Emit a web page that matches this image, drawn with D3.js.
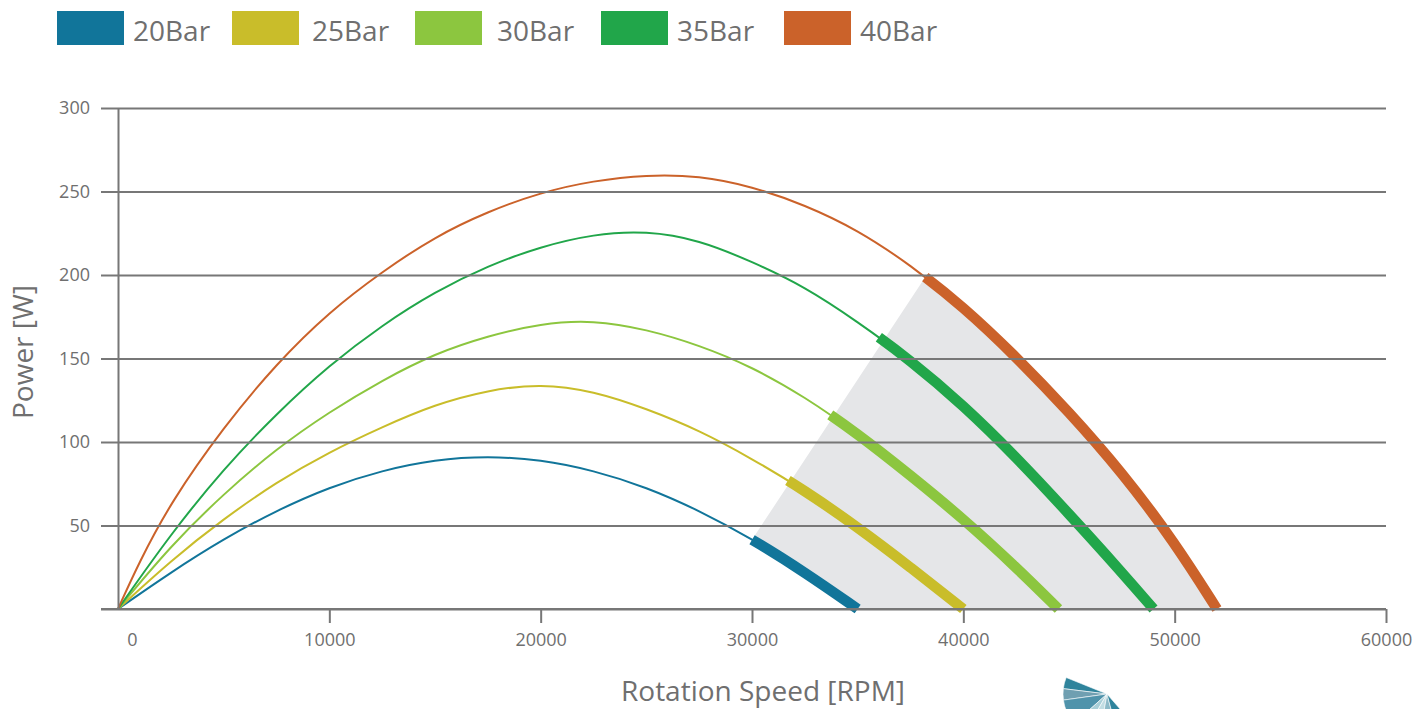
<!DOCTYPE html>
<html>
<head>
<meta charset="utf-8">
<script src="https://cdn.jsdelivr.net/npm/d3@7"></script>
<style>
  html, body { margin: 0; padding: 0; background: #ffffff; }
  svg { display: block; font-family: "Open Sans", "Noto Sans", sans-serif; }
</style>
</head>
<body>
<svg id="chart" width="1427" height="709"></svg>
<script>
// Pressure levels shown in the legend
const seriesNames = ["20Bar", "25Bar", "30Bar", "35Bar", "40Bar"];
const seriesColors = ["#11759a", "#c9bd2a", "#8cc63f", "#21a64a", "#cb622a"];

// Power curves: rotation speed [RPM] and power [W]
const rpm20 = [0, 2500, 5000, 7500, 10000, 12500, 15000, 17500, 20000, 22500, 25000, 27500, 30000, 32500, 35000];
const pow20 = [0, 22, 42, 59, 73, 83, 89.5, 91.5, 89.5, 83, 73, 59, 42, 22, 0];

const rpm25 = [0, 2500, 5000, 7500, 10000, 12500, 15000, 17500, 20000, 22500, 25000, 27500, 30000, 32500, 35000, 37500, 40000];
const pow25 = [0, 29, 54, 76, 94, 109, 122.5, 131, 135, 130.5, 120, 107, 90, 71, 49, 25, 0];

const rpm30 = [0, 2500, 5000, 7500, 10000, 12500, 15000, 17500, 20000, 22500, 25000, 27500, 30000, 32500, 35000, 37500, 40000, 42500, 44500];
const pow30 = [0, 38, 69, 96, 118, 137, 153, 163.5, 171, 173, 167.5, 158, 145, 127, 105, 80, 54, 25, 0];

const rpm35 = [0, 2500, 5000, 7500, 10000, 12500, 15000, 17500, 20000, 22500, 25000, 27500, 30000, 32500, 35000, 37500, 40000, 42500, 45000, 47500, 49000];
const pow35 = [0, 45, 84, 117, 146, 170, 190, 205.5, 217, 224.5, 226.5, 221, 208, 193, 172, 149, 122, 91, 57, 22, 0];

const rpm40 = [0, 1000, 2500, 5000, 7500, 10000, 12500, 15000, 17500, 20000, 22500, 25000, 27500, 30000, 32500, 35000, 37500, 40000, 42500, 45000, 47500, 50000, 52000];
const pow40 = [0, 28, 64, 109, 147, 178, 202, 223, 238, 249.5, 256.5, 260, 259.5, 253, 242, 227, 206, 181, 151, 118, 82, 40, 0];

// Speed from which each curve is in its recommended operating range
const rangeStart = [30000, 31700, 33700, 36000, 38200];

// Axis ticks
const xTicks = [0, 10000, 20000, 30000, 40000, 50000, 60000];
const yTicks = [0, 50, 100, 150, 200, 250, 300];

const rpmSets = [rpm20, rpm25, rpm30, rpm35, rpm40];
const powSets = [pow20, pow25, pow30, pow35, pow40];
const series = seriesNames.map((name, i) => ({
  name,
  color: seriesColors[i],
  start: rangeStart[i],
  points: rpmSets[i].map((r, j) => ({ rpm: r, p: powSets[i][j] }))
}));

const svg = d3.select("#chart");
const textColor = "#6f6f6f";
const gridColor = "#777777";

const x = d3.scaleLinear().domain([0, 60000]).range([118, 1386]);
const y = d3.scaleLinear().domain([0, 300]).range([609, 108]);

const line = d3.line()
  .x(d => x(d.rpm))
  .y(d => y(d.p))
  .curve(d3.curveBasis);

const regionLayer = svg.append("g");
const plot = svg.append("g");

// Full curves (thin)
const thin = plot.selectAll("path.thin")
  .data(series)
  .join("path")
  .attr("class", "thin")
  .attr("d", d => line(d.points))
  .attr("fill", "none")
  .attr("stroke", d => d.color)
  .attr("stroke-width", 2);

// Path length at which a curve reaches a given speed
function lengthAt(node, rpm) {
  const tx = x(rpm);
  let lo = 0, hi = node.getTotalLength();
  for (let k = 0; k < 40; k++) {
    const mid = (lo + hi) / 2;
    if (node.getPointAtLength(mid).x < tx) lo = mid; else hi = mid;
  }
  return (lo + hi) / 2;
}

thin.each(function (d) {
  d.total = this.getTotalLength();
  d.startLen = lengthAt(this, d.start);
  d.node = this;
});

// Operating range (thick), drawn along the same curve from its start speed
plot.selectAll("path.thick")
  .data(series)
  .join("path")
  .attr("class", "thick")
  .attr("d", d => line(d.points))
  .attr("fill", "none")
  .attr("stroke", d => d.color)
  .attr("stroke-width", 10.5)
  .attr("stroke-linecap", "butt")
  .attr("stroke-dasharray", d => `0 ${d.startLen} ${d.total - d.startLen + 20}`);

// Shaded operating region between the lowest and highest pressure curves
function sample(d) {
  const pts = [];
  const n = 80;
  for (let k = 0; k <= n; k++) {
    const p = d.node.getPointAtLength(d.startLen + (d.total - d.startLen) * k / n);
    pts.push([p.x, p.y]);
  }
  return pts;
}
const lowPts = sample(series[0]);
const highPts = sample(series[series.length - 1]);
const regionPts = highPts.concat(lowPts.slice().reverse());
regionLayer.append("path")
  .attr("d", "M" + regionPts.map(p => p.join(",")).join("L") + "Z")
  .attr("fill", "#e5e6e8");

// Horizontal grid lines
const grid = svg.append("g")
  .attr("transform", `translate(${x(0)},0)`)
  .call(d3.axisLeft(y).tickValues(yTicks).tickSizeInner(-(x(60000) - x(0))).tickSizeOuter(0).tickFormat(""));
grid.select(".domain").remove();
grid.selectAll(".tick line").attr("stroke", gridColor).attr("stroke-width", 2);

// Y axis with outward tick stubs and labels
const yAxis = svg.append("g")
  .attr("transform", `translate(${x(0)},0)`)
  .call(d3.axisLeft(y).tickValues(yTicks).tickSizeInner(17).tickSizeOuter(0).tickPadding(11)
    .tickFormat(d => d === 0 ? "" : d));
yAxis.select(".domain").attr("stroke", gridColor).attr("stroke-width", 2);
yAxis.selectAll(".tick line").attr("stroke", gridColor).attr("stroke-width", 2);
yAxis.selectAll(".tick text")
  .attr("fill", textColor)
  .style("font-size", "18px")
  .style("font-family", "'Open Sans', sans-serif");

// X axis
const xAxis = svg.append("g")
  .attr("transform", `translate(0,${y(0)})`)
  .call(d3.axisBottom(x).tickValues(xTicks).tickSizeInner(14).tickSizeOuter(0).tickPadding(10)
    .tickFormat(d3.format("d")));
xAxis.select(".domain").remove();
xAxis.append("line")
  .attr("x1", x(0) - 17).attr("x2", x(60000))
  .attr("stroke", gridColor).attr("stroke-width", 2);
xAxis.selectAll(".tick line")
  .attr("stroke", gridColor).attr("stroke-width", 2)
  .attr("display", d => d === 0 ? "none" : null);
xAxis.selectAll(".tick text")
  .attr("fill", textColor)
  .attr("dx", d => d === 0 ? 14 : 0)
  .style("font-size", "18px")
  .style("font-family", "'Open Sans', sans-serif");

// Axis titles
svg.append("text")
  .attr("x", 763).attr("y", 701)
  .attr("text-anchor", "middle")
  .attr("fill", textColor)
  .style("font-size", "28px")
  .text("Rotation Speed [RPM]");

svg.append("text")
  .attr("transform", "translate(33,352) rotate(-90)")
  .attr("text-anchor", "middle")
  .attr("fill", textColor)
  .style("font-size", "28px")
  .text("Power [W]");

// Legend
const legendX = [57, 232, 415, 601, 784];
const legendGap = [76, 80, 82, 76, 76];
const legend = svg.append("g");
series.forEach((s, i) => {
  legend.append("rect")
    .attr("x", legendX[i]).attr("y", 11)
    .attr("width", 67).attr("height", 34)
    .attr("fill", s.color);
  legend.append("text")
    .attr("x", legendX[i] + legendGap[i]).attr("y", 41)
    .attr("fill", textColor)
    .style("font-size", "28px")
    .text(s.name);
});

// Logo mark (fan of wedges) at the bottom edge
const logo = svg.append("g").attr("transform", "translate(1107,694)");
const wedgeArc = d3.arc().innerRadius(0).outerRadius(44);
const wedges = [
  { a0: 277, a1: 292, c: "#2f849c" },
  { a0: 262, a1: 277, c: "#6f9fb1" },
  { a0: 228, a1: 262, c: "#4f93ab" },
  { a0: 210, a1: 228, c: "#a9cfd8" },
  { a0: 190, a1: 210, c: "#c1dde3" },
  { a0: 165, a1: 190, c: "#8dbac8" },
  { a0: 139, a1: 165, c: "#2f849c" }
];
logo.selectAll("path")
  .data(wedges)
  .join("path")
  .attr("d", d => wedgeArc({ startAngle: d.a0 * Math.PI / 180, endAngle: d.a1 * Math.PI / 180 }))
  .attr("fill", d => d.c)
  .attr("stroke", "#ffffff")
  .attr("stroke-width", 0.6);
</script>
</body>
</html>
